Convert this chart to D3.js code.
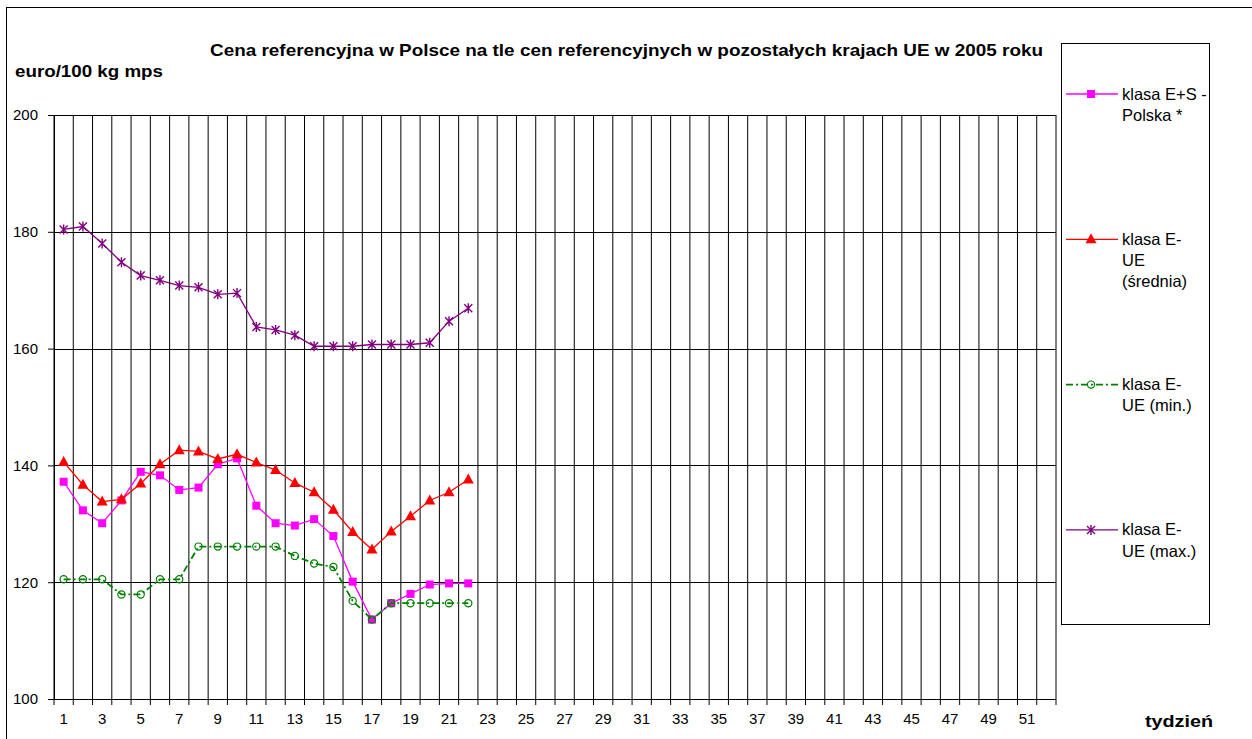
<!DOCTYPE html>
<html lang="pl">
  <head>
    <meta charset="UTF-8" />
    <title>Cena referencyjna</title>
    <style>
      body { margin: 0; background: #fff; }
      text { font-family: "Liberation Sans", Arial, sans-serif; fill: #000; }
      .grid line { stroke: #000; stroke-width: 1; }
    </style>
  </head>
  <body>
    <svg id="chart" width="1252" height="739"></svg>
  </body>
  <script src="https://cdn.jsdelivr.net/npm/d3@7"></script>
  <script>
    // tygodnie 1..52
    const weeks = d3.range(1, 53);
    const yTicks = [100, 120, 140, 160, 180, 200];

    const polska = [137.2, 132.3, 130.1, 134.0, 138.9, 138.3, 135.8, 136.2, 140.2, 141.2, 133.1,
      130.1, 129.7, 130.8, 127.9, 120.1, 113.6, 116.4, 118.0, 119.6, 119.8, 119.8];
    const srednia = [140.6, 136.7, 133.8, 134.2, 136.9, 140.2, 142.6, 142.4, 141.1, 141.9, 140.5,
      139.2, 137.0, 135.4, 132.4, 128.6, 125.6, 128.7, 131.3, 134.0, 135.4, 137.6];
    const minUE = [120.5, 120.5, 120.5, 117.9, 117.9, 120.5, 120.5, 126.1, 126.1, 126.1, 126.1,
      126.1, 124.5, 123.2, 122.6, 116.8, 113.6, 116.4, 116.4, 116.4, 116.4, 116.4];
    const maxUE = [180.4, 180.9, 178.0, 174.8, 172.5, 171.7, 170.8, 170.5, 169.3, 169.5, 163.7,
      163.2, 162.3, 160.4, 160.4, 160.4, 160.7, 160.7, 160.7, 161.0, 164.7, 166.9];

    const seriesNames = [
      ["klasa E+S -", "Polska *"],
      ["klasa E-", "UE", "(średnia)"],
      ["klasa E-", "UE (min.)"],
      ["klasa E-", "UE (max.)"]
    ];

    const series = [
      { values: polska, color: "#ff00ff", marker: "square", dash: null, width: 1.3 },
      { values: srednia, color: "#ff0000", marker: "triangle", dash: null, width: 1.3 },
      { values: minUE, color: "#008000", marker: "circle", dash: "7,3,2,3", width: 1.8 },
      { values: maxUE, color: "#800080", marker: "star", dash: null, width: 1.3 }
    ];

    const svg = d3.select("#chart");

    // ramka wykresu
    svg.append("rect")
      .attr("x", 6.5).attr("y", 7.5)
      .attr("width", 1260).attr("height", 760)
      .attr("fill", "none").attr("stroke", "#000");

    const x = d3.scaleBand().domain(weeks).range([54, 1056]);
    const y = d3.scaleLinear().domain([100, 200]).range([699, 115]);

    // linie siatki
    const grid = svg.append("g").attr("class", "grid");
    grid.selectAll(".h").data(yTicks).enter().append("line")
      .attr("x1", x.range()[0]).attr("x2", x.range()[1])
      .attr("y1", d => Math.round(y(d)) + 0.5).attr("y2", d => Math.round(y(d)) + 0.5);
    const bounds = weeks.map(w => x(w)).concat([x.range()[1]]);
    grid.selectAll(".v").data(bounds).enter().append("line")
      .attr("x1", d => d).attr("x2", d => d)
      .attr("y1", y(200)).attr("y2", y(100) + 6);

    // os Y
    const yAxis = svg.append("g")
      .attr("transform", "translate(54,0)")
      .call(d3.axisLeft(y).tickValues(yTicks).tickSize(6).tickPadding(10));
    yAxis.select(".domain").attr("stroke", "#000");
    yAxis.selectAll("text").style("font-size", "15px").attr("font-family", null);

    // os X
    const xAxis = svg.append("g")
      .attr("transform", "translate(0," + y(100) + ")")
      .call(d3.axisBottom(x).tickValues(weeks.filter(w => w % 2 === 1)).tickSize(0).tickPadding(14));
    xAxis.select(".domain").remove();
    xAxis.selectAll("text").style("font-size", "15px").attr("font-family", null);

    // tytuly
    svg.append("text").attr("x", 210).attr("y", 56)
      .attr("textLength", 833).attr("lengthAdjust", "spacingAndGlyphs")
      .style("font-size", "17px").style("font-weight", "bold")
      .text("Cena referencyjna w Polsce na tle cen referencyjnych w pozostałych krajach UE w 2005 roku");
    svg.append("text").attr("x", 15).attr("y", 77)
      .attr("textLength", 148).attr("lengthAdjust", "spacingAndGlyphs")
      .style("font-size", "17px").style("font-weight", "bold")
      .text("euro/100 kg mps");
    svg.append("text").attr("x", 1145).attr("y", 727)
      .attr("textLength", 68).attr("lengthAdjust", "spacingAndGlyphs")
      .style("font-size", "17px").style("font-weight", "bold")
      .text("tydzień");

    function drawMarker(g, type, color) {
      if (type === "square") {
        g.append("rect").attr("x", -4).attr("y", -4).attr("width", 8).attr("height", 8)
          .attr("fill", color);
      } else if (type === "triangle") {
        g.append("path").attr("d", "M0,-6L5.5,4L-5.5,4Z").attr("fill", color);
      } else if (type === "circle") {
        g.append("circle").attr("r", 3.6).attr("fill", "none")
          .attr("stroke", color).attr("stroke-width", 1.2);
      } else if (type === "star") {
        g.append("path").attr("d", "M-4,-4L4,4M-4,4L4,-4M0,-5L0,5")
          .attr("stroke", color).attr("stroke-width", 1.4).attr("fill", "none");
      }
    }

    const line = d3.line()
      .x((d, i) => x(weeks[i]) + x.bandwidth() / 2)
      .y(d => y(d));

    series.forEach(s => {
      const g = svg.append("g");
      g.append("path").datum(s.values)
        .attr("d", line)
        .attr("fill", "none")
        .attr("stroke", s.color)
        .attr("stroke-width", s.width)
        .attr("stroke-dasharray", s.dash);
      g.selectAll("g.m").data(s.values).enter().append("g")
        .attr("transform", (d, i) => "translate(" + (x(weeks[i]) + x.bandwidth() / 2) + "," + y(d) + ")")
        .each(function () { drawMarker(d3.select(this), s.marker, s.color); });
    });

    // legenda
    const legend = svg.append("g");
    legend.append("rect").attr("x", 1061.5).attr("y", 43.5)
      .attr("width", 148).attr("height", 581)
      .attr("fill", "#fff").attr("stroke", "#000");
    series.forEach((s, i) => {
      const ly = 94 + i * 145.3;
      const item = legend.append("g").attr("transform", "translate(0," + ly + ")");
      item.append("line").attr("x1", 1066).attr("x2", 1118)
        .attr("stroke", s.color).attr("stroke-width", s.width)
        .attr("stroke-dasharray", s.dash);
      const m = item.append("g").attr("transform", "translate(1091,0)");
      drawMarker(m, s.marker, s.color);
      seriesNames[i].forEach((t, j) => {
        item.append("text").attr("x", 1122).attr("y", 5.5 + j * 21.3)
          .style("font-size", "16.5px").text(t);
      });
    });
  </script>
</html>
